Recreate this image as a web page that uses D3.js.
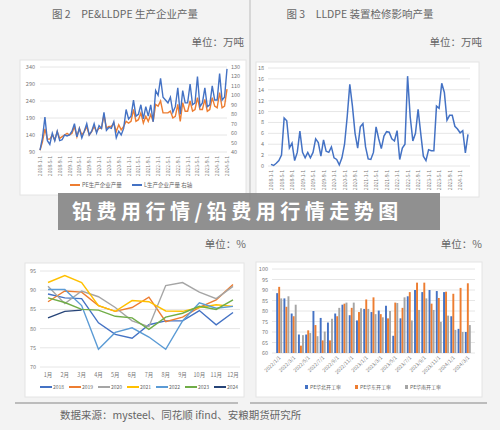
<!DOCTYPE html><html><head><meta charset="utf-8"><script src="https://cdn.jsdelivr.net/npm/d3@7"></script>
<style>body{margin:0;background:#f3f3f3;font-family:"Noto Sans CJK SC","Noto Sans",sans-serif}</style></head><body>
<svg id="c" width="500" height="430"></svg>
<script>
const pe=[95,120,158,128,128,140,125,150,130,135,140,145,140,145,165,135,160,140,150,165,140,150,165,150,160,160,200,160,165,165,175,150,170,155,165,180,175,180,215,180,185,205,175,195,180,200,180,230,225,240,205,205,205,210,190,195,230,180,235,210,210,240,210,215,250,215,215,245,210,215,250,225,220,265,220,225,275];
const ll=[42,55,77,52,48,60,52,62,52,53,58,57,58,62,70,56,65,55,62,70,58,62,70,60,68,65,82,63,66,65,72,55,62,58,65,85,75,78,95,78,80,90,75,88,78,90,72,105,100,118,98,95,92,98,82,88,108,80,105,92,92,112,90,92,120,88,92,108,88,90,110,95,95,123,95,98,128];
const maint=[0.3,0.1,0.5,1,2,8.8,8.3,3.3,4.2,1,2.5,6.4,2.5,1.5,2.5,1.5,2.5,5,4.3,1.8,4.8,2.7,2.5,3.5,1.5,1.2,0.2,1.5,4,9,15,11,6,3.3,7.2,7.8,3.5,1.3,1.2,2.5,7.2,5,3.2,5.5,6.3,6.2,5,4.6,6.5,1.2,3.3,4,16.5,9,4.6,6,10.4,6,1.8,1,3,2.8,2.8,11,10.6,15.2,13.5,8.4,9.3,9.3,7.3,6.8,6.1,6.5,2.4,5.8];
const years=["2018","2019","2020","2021","2022","2023","2024"];
const yearColors=["#4472c4","#ed7d31","#a5a5a5","#ffc000","#5b9bd5","#70ad47","#264478"];
const rates=[[89,88,87.8,81.5,78.5,77.5,81,82,82,84.7,81,84.2],[87,89.8,89.5,86,84.5,85.5,88.2,81.8,83,85.5,87.5,91.5],[91,86.5,89.8,88.3,85.5,82,80.5,91.2,92,89.5,87.8,91],[92,93.8,92,86,84.5,87.3,87,84.6,84.5,85.5,86.2,85.8],[90.2,90.2,86,74.6,79,80.2,77.8,74.6,82,86.7,85.3,85.8],[88,86.8,85,84.8,83.2,82.8,79.8,83,84,85.8,85,87.5],[82.8,84.5,84.8]];
const months=["1月","2月","3月","4月","5月","6月","7月","8月","9月","10月","11月","12月"];
const north=[88.5,86,78.8,68.8,68.8,80,76.7,74.5,78.8,83,78,75.5,81,79.5,80.2,82.5,68.2,76.5,87,90,89,90,89.5,89,77.5,71.5,70];
const east=[91.5,82,77.5,63.5,70.8,73.3,66,66,77.5,83.5,81.5,79.5,85.5,86.5,78.5,76.5,84,81.5,89,93.5,93.5,83.5,86.2,89.2,88.2,91,93.2];
const south=[86,87,83,68.5,69.5,68,70.2,76.3,81.5,84,84,81.3,81,78.5,77,80,83.8,86.5,75.5,80.5,86,80.5,74.8,77.8,71,70,73.3];
const regionNames=["PE华北开工率","PE华东开工率","PE华南开工率"];

const svg=d3.select("#c");
const T=(x,y,s,o={})=>svg.append("text").attr("x",x).attr("y",y).text(s).attr("font-size",o.fs||11).attr("fill",o.c||"#666").attr("text-anchor",o.a||"start").attr("font-weight",o.w||400).attr("letter-spacing",o.ls||0);
svg.append("line").attr("x1",250).attr("x2",250).attr("y1",0).attr("y2",200).attr("stroke","#bbb");
svg.append("line").attr("x1",15).attr("x2",238).attr("y1",403).attr("y2",403).attr("stroke","#aaa").attr("stroke-width",1.5);
svg.append("line").attr("x1",250).attr("x2",487).attr("y1",403).attr("y2",403).attr("stroke","#aaa").attr("stroke-width",1.5);
T(125,18,"图 2　PE&LLDPE 生产企业产量",{a:"middle",fs:10.5});
T(244,46,"单位：万吨",{a:"end",fs:10.5});
T(360,18,"图 3　LLDPE 装置检修影响产量",{a:"middle",fs:10.5});
T(482,46,"单位：万吨",{a:"end",fs:10.5});
T(246,248,"单位：%",{a:"end",fs:10.5});
T(482,248,"单位：%",{a:"end",fs:10.5});
T(60,419,"数据来源：mysteel、同花顺 ifind、安粮期货研究所",{fs:10.5});
const box=(x,y,w,h)=>svg.append("rect").attr("x",x).attr("y",y).attr("width",w).attr("height",h).attr("fill","#fff").attr("stroke","#e4e4e4");
box(20,60,226,135);box(256,62,223,135);box(25,263,219,134);box(256,262,226,135);
const mdates=d3.range(pe.length).map(i=>(2018+Math.floor(i/12))+"-"+(i%12+1)+"-1");
function grid(y,ticks,x0,x1){svg.append("g").selectAll("line").data(ticks).join("line").attr("x1",x0).attr("x2",x1).attr("y1",d=>y(d)).attr("y2",d=>y(d)).attr("stroke","#e6e6e6");}
function ylab(y,ticks,x,anchor){svg.append("g").selectAll("text").data(ticks).join("text").attr("x",x).attr("y",d=>y(d)+2).text(d=>d).attr("font-size",5.5).attr("fill","#777").attr("text-anchor",anchor);}
function xrot(xs,labels,y){svg.append("g").selectAll("text").data(labels).join("text").attr("transform",(d,i)=>`translate(${xs[i]+2},${y}) rotate(-90)`).text(d=>d).attr("font-size",5).attr("fill","#777").attr("text-anchor","end");}
{const x=d3.scaleLinear().domain([0,pe.length-1]).range([40,227]);
const yl=d3.scaleLinear().domain([90,340]).range([152,67]);const yr=d3.scaleLinear().domain([40,130]).range([152,67]);
grid(yl,d3.range(90,341,50),40,227);ylab(yl,d3.range(90,341,50),35,"end");ylab(yr,d3.range(40,131,10),231,"start");
svg.append("path").datum(pe).attr("d",d3.line().x((d,i)=>x(i)).y(d=>yl(d))).attr("fill","none").attr("stroke","#ed7d31").attr("stroke-width",1.4);
svg.append("path").datum(ll).attr("d",d3.line().x((d,i)=>x(i)).y(d=>yr(d))).attr("fill","none").attr("stroke","#4472c4").attr("stroke-width",1.4);
const idx=d3.range(0,pe.length,4);xrot(idx.map(x),idx.map(i=>mdates[i]),156);
svg.append("line").attr("x1",70).attr("x2",80).attr("y1",185).attr("y2",185).attr("stroke","#ed7d31").attr("stroke-width",2);T(82,187,"PE生产企业产量",{fs:5.5});
svg.append("line").attr("x1",132).attr("x2",142).attr("y1",185).attr("y2",185).attr("stroke","#4472c4").attr("stroke-width",2);T(144,187,"L生产企业产量 右轴",{fs:5.5});}
{const x=d3.scaleLinear().domain([0,maint.length-1]).range([271,468]);const y=d3.scaleLinear().domain([0,18]).range([166,68]);
const tk=d3.range(0,19,2);grid(y,tk,268,470);ylab(y,tk,264,"end");
svg.append("path").datum(maint).attr("d",d3.line().x((d,i)=>x(i)).y(d=>y(d))).attr("fill","none").attr("stroke","#4472c4").attr("stroke-width",1.5);
const idx=d3.range(0,maint.length,4);xrot(idx.map(x),idx.map(i=>mdates[i]),170);}
{const x=d3.scalePoint().domain(months).range([48,233]);const y=d3.scaleLinear().domain([70,95]).range([367,271]);
const tk=d3.range(70,96,5);grid(y,tk,40,240);ylab(y,tk,36,"end");
rates.forEach((r,k)=>svg.append("path").datum(r).attr("d",d3.line().x((d,i)=>x(months[i])).y(d=>y(d))).attr("fill","none").attr("stroke",yearColors[k]).attr("stroke-width",1.4));
svg.append("g").selectAll("text").data(months).join("text").attr("x",d=>x(d)).attr("y",377).text(d=>d).attr("font-size",5.5).attr("fill","#777").attr("text-anchor","middle");
years.forEach((yy,k)=>{const lx=40+k*29;svg.append("line").attr("x1",lx).attr("x2",lx+12).attr("y1",387).attr("y2",387).attr("stroke",yearColors[k]).attr("stroke-width",2);T(lx+13,389,yy,{fs:5});});}
{const n=north.length;const gdates=d3.range(n).map(i=>(2022+Math.floor(i/12))+"/"+(i%12+1)+"/1");
const x0=d3.scaleBand().domain(gdates).range([275,472]).padding(0.15);const x1=d3.scaleBand().domain([0,1,2]).range([0,x0.bandwidth()]).padding(0.05);
const y=d3.scaleLinear().domain([60,100]).range([353,269]);const tk=d3.range(60,101,5);grid(y,tk,272,475);ylab(y,tk,268,"end");
const cols=["#4472c4","#ed7d31","#a5a5a5"];const ser=[north,east,south];
ser.forEach((s,k)=>svg.append("g").selectAll("rect").data(s).join("rect").attr("x",(d,i)=>x0(gdates[i])+x1(k)).attr("width",x1.bandwidth()).attr("y",d=>y(d)).attr("height",d=>353-y(d)).attr("fill",cols[k]));
const idx=d3.range(0,n,2);svg.append("g").selectAll("text").data(idx).join("text").attr("transform",i=>`translate(${x0(gdates[i])+5},${358}) rotate(-45)`).text(i=>gdates[i]).attr("font-size",5).attr("fill","#777").attr("text-anchor","end");
regionNames.forEach((nm,k)=>{const lx=305+k*50;svg.append("rect").attr("x",lx).attr("y",385).attr("width",3).attr("height",4).attr("fill",cols[k]);T(lx+5,389,nm,{fs:5});});}
svg.append("rect").attr("x",58).attr("y",193).attr("width",382).attr("height",37).attr("fill","#888").attr("opacity",0.92);
T(72,219,"铅费用行情/铅费用行情走势图",{fs:20,w:700,c:"#fff",ls:4.5});
</script></body></html>
